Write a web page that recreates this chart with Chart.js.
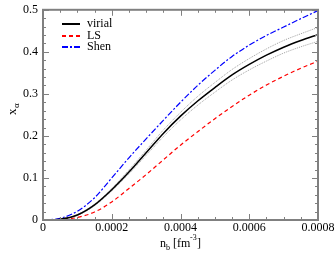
<!DOCTYPE html>
<html>
<head>
<meta charset="utf-8">
<script src="https://cdn.jsdelivr.net/npm/chart.js@4.4.0/dist/chart.umd.min.js"></script>
<style>
  html, body { margin: 0; padding: 0; background: #fff; }
  canvas { display: block; }
</style>
</head>
<body>
<canvas id="alpha-chart" width="336" height="257"></canvas>
<script>
// density n_b [fm^-3]
const nb = [0, 0.00005, 0.0001, 0.00015, 0.0002, 0.00025, 0.0003, 0.00035, 0.0004,
  0.00045, 0.0005, 0.00055, 0.0006, 0.00065, 0.0007, 0.00075, 0.0008];
const virial = [0, 0.002, 0.012, 0.036, 0.072, 0.114, 0.160, 0.206, 0.247,
  0.283, 0.315, 0.345, 0.370, 0.392, 0.411, 0.427, 0.441];
const virialHi = [0, 0.002, 0.013, 0.038, 0.075, 0.119, 0.166, 0.214, 0.256,
  0.294, 0.327, 0.358, 0.384, 0.407, 0.427, 0.443, 0.458];
const virialLo = [0, 0.002, 0.011, 0.034, 0.069, 0.110, 0.154, 0.198, 0.238,
  0.273, 0.304, 0.333, 0.357, 0.378, 0.397, 0.412, 0.425];
const ls = [0, 0.001, 0.006, 0.019, 0.043, 0.075, 0.108, 0.143, 0.178,
  0.210, 0.241, 0.270, 0.297, 0.321, 0.342, 0.361, 0.378];
const shen = [0, 0.004, 0.021, 0.053, 0.100, 0.148, 0.193, 0.237, 0.280,
  0.320, 0.356, 0.389, 0.416, 0.439, 0.459, 0.479, 0.498];

const serif = "'Liberation Serif', 'Times New Roman', serif";

function pts(ys) {
  return nb.map((x, i) => ({ x: x, y: ys[i] }));
}

function line(label, ys, color, width, dash) {
  return {
    label: label,
    data: pts(ys),
    borderColor: color,
    borderWidth: width,
    borderDash: dash,
    pointRadius: 0,
    fill: false,
    cubicInterpolationMode: "monotone",
  };
}

// frame, inward ticks (major + minor), legend and axis titles
const decorations = {
  id: "decorations",
  afterDraw(chart) {
    const ctx = chart.ctx;
    const a = chart.chartArea;
    const xs = chart.scales.x;
    const ys = chart.scales.y;
    ctx.save();
    ctx.strokeStyle = "#808080";
    ctx.lineWidth = 1;
    // x ticks
    for (let i = 0; i <= 16; i++) {
      const px = Math.round(xs.getPixelForValue(i * 0.00005)) + 0.5;
      const len = i % 4 === 0 ? 6 : 3;
      ctx.beginPath();
      ctx.moveTo(px, a.bottom); ctx.lineTo(px, a.bottom - len);
      ctx.moveTo(px, a.top); ctx.lineTo(px, a.top + len);
      ctx.stroke();
    }
    // y ticks
    for (let i = 0; i <= 25; i++) {
      const py = Math.round(ys.getPixelForValue(i * 0.02)) + 0.5;
      const len = i % 5 === 0 ? 6 : 3;
      ctx.beginPath();
      ctx.moveTo(a.left, py); ctx.lineTo(a.left + len, py);
      ctx.moveTo(a.right, py); ctx.lineTo(a.right - len, py);
      ctx.stroke();
    }
    ctx.lineWidth = 2;
    ctx.strokeRect(a.left, a.top, a.right - a.left, a.bottom - a.top);

    // legend
    const entries = [chart.data.datasets[0], chart.data.datasets[1], chart.data.datasets[2]];
    ctx.font = "12px " + serif;
    ctx.textBaseline = "middle";
    entries.forEach((ds, i) => {
      const y = 24 + i * 11.5;
      const ly = Math.round(y);
      ctx.strokeStyle = ds.borderColor;
      ctx.lineWidth = 2;
      ctx.setLineDash(ds.borderDash || []);
      ctx.beginPath();
      ctx.moveTo(62, ly); ctx.lineTo(80, ly);
      ctx.stroke();
      ctx.setLineDash([]);
      ctx.fillStyle = "#000";
      ctx.fillText(ds.label, 87, y);
    });

    // y title: x_alpha
    ctx.save();
    ctx.translate(16, 109);
    ctx.rotate(-Math.PI / 2);
    ctx.fillStyle = "#000";
    ctx.textBaseline = "alphabetic";
    ctx.font = "13px " + serif;
    ctx.fillText("x", -6, 0);
    ctx.font = "9px " + serif;
    ctx.fillText("α", 1, 3);
    ctx.restore();

    // x title: n_b [fm^-3]
    ctx.fillStyle = "#000";
    ctx.textBaseline = "alphabetic";
    ctx.font = "12px " + serif;
    ctx.fillText("n", 160, 247);
    ctx.font = "8px " + serif;
    ctx.fillText("b", 166, 250);
    ctx.font = "12px " + serif;
    ctx.fillText("[fm", 173, 247);
    ctx.font = "8px " + serif;
    ctx.fillText("-3", 190, 240);
    ctx.font = "12px " + serif;
    ctx.fillText("]", 197, 247);
    ctx.restore();
  },
};

const ctx = document.getElementById("alpha-chart").getContext("2d");
const chart = new Chart(ctx, {
  type: "line",
  data: {
    datasets: [
      line("virial", virial, "#000000", 1.5, []),
      line("LS", ls, "#ff0000", 1.2, [4, 3]),
      line("Shen", shen, "#0000ff", 1.2, [6, 2, 2, 2]),
      line("virial+", virialHi, "#a0a0a0", 1, [1, 1]),
      line("virial-", virialLo, "#a0a0a0", 1, [1, 1]),
    ],
  },
  options: {
    responsive: false,
    animation: false,
    devicePixelRatio: 1,
    layout: { padding: { top: 5, right: 18, left: 0, bottom: 0 } },
    plugins: { legend: { display: false }, tooltip: { enabled: false } },
    scales: {
      x: {
        type: "linear",
        min: 0,
        max: 0.0008,
        grid: { display: false, drawTicks: false },
        border: { display: false },
        ticks: {
          stepSize: 0.0002,
          padding: 1,
          maxRotation: 0,
          color: "#000",
          font: { family: serif, size: 12 },
          callback: (v) => (v === 0 ? "0" : Number(v.toFixed(4)).toString()),
        },
        afterFit: (s) => { s.height = 37; },
      },
      y: {
        min: 0,
        max: 0.5,
        grid: { display: false, drawTicks: false },
        border: { display: false },
        ticks: {
          stepSize: 0.1,
          padding: 5,
          color: "#000",
          font: { family: serif, size: 12, lineHeight: 0.8 },
          callback: (v) => (v === 0 ? "0" : Number(v.toFixed(1)).toString()),
        },
        afterFit: (s) => { s.width = 43; },
      },
    },
  },
  plugins: [decorations],
});
</script>
</body>
</html>
